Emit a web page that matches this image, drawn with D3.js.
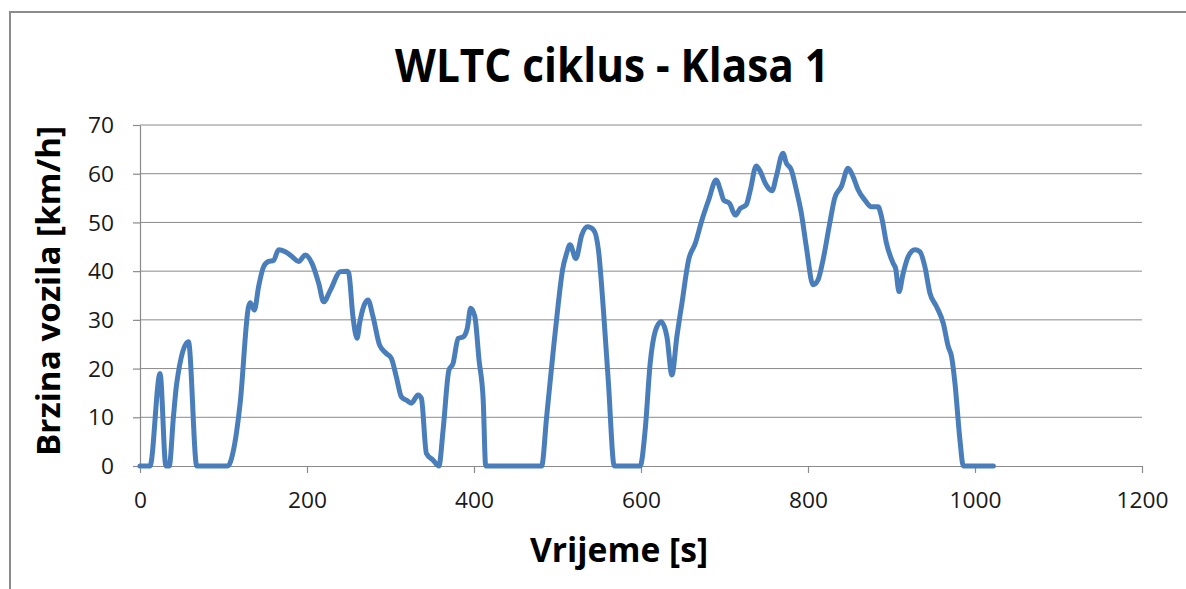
<!DOCTYPE html>
<html>
<head>
<meta charset="utf-8">
<script src="https://cdn.jsdelivr.net/npm/d3@7"></script>
<style>
  html, body { margin: 0; padding: 0; background: #fff; }
  svg { display: block; }
</style>
</head>
<body>
<svg id="chart" width="1186" height="589"></svg>
<script>
// WLTC Class 1 driving cycle: time [s] and vehicle speed [km/h]
const timeSec = [0,12,24,31,35,40,44,58,68,105,112,120,130,132,137,142,148,154,160,166,174,182,190,198,206,214,220,228,240,248,250,255,260,263,273,279,287,295,301,307,313,319,325,333,337,343,351,358,363,370,375,381,387,392,396,401,406,411,414,481,487,495,501,506,511,515,522,529,536,543,549,555,561,568,599,605,611,617,624,631,637,643,649,657,665,673,681,690,695,699,706,713,719,726,731,738,743,749,757,762,770,774,780,786,792,798,806,812,818,826,832,840,848,854,860,868,876,884,888,894,902,905,909,914,920,928,934,940,946,954,962,968,972,976,982,986,1022];
const speedKmh = [0,0,19,0,0,10,17,25.5,0,0,3.3,13,32.7,33.5,32,36.8,40.9,42,42.2,44.4,44,43,42,43.3,41.6,37.5,33.7,36.1,39.9,40,39.6,30.7,26.2,29.3,34.1,30.7,24.8,23.1,22.1,18.3,14.2,13.5,12.9,14.6,13.9,2.6,1.2,0,7.4,19.7,21.1,26.2,26.5,28.3,32.4,30.7,21.8,13.6,0,0,10.1,23.8,33.4,40.2,43.7,45.4,42.6,47.4,49.1,48.5,44.4,32,17,0,0,7.4,21.1,27.6,29.6,26.6,18.7,26.6,33.4,42.3,45.7,50.5,54.6,58.7,56.7,54.6,53.9,51.5,52.9,53.6,56.7,61.6,60.4,58,56.5,59.4,64.2,62.2,60.8,56.7,51.9,45,37.2,38.2,42.3,49.8,55,57.4,61.1,59.4,56.7,54.6,53.2,53.2,51.2,45.7,41.6,40.5,35.8,39.6,43,44.4,44,40.9,35.5,32.7,29.3,24.5,22.4,17,5.3,0,0];

const xTicks = [0,200,400,600,800,1000,1200];
const yTicks = [0,10,20,30,40,50,60,70];

const titleText = "WLTC ciklus - Klasa 1";
const xTitle = "Vrijeme [s]";
const yTitle = "Brzina vozila [km/h]";

const svg = d3.select("#chart");
const plot = { left: 140, right: 1142, top: 125, bottom: 466 };

const x = d3.scaleLinear().domain([0, 1200]).range([plot.left, plot.right]);
const y = d3.scaleLinear().domain([0, 70]).range([plot.bottom, plot.top]);

// outer chart frame
svg.append("rect")
  .attr("x", 10).attr("y", 12)
  .attr("width", 1200).attr("height", 620)
  .attr("fill", "#fff")
  .attr("stroke", "#8c8c8c")
  .attr("stroke-width", 2);

// horizontal gridlines
svg.append("g")
  .selectAll("line")
  .data(yTicks.filter(d => d > 0))
  .join("line")
  .attr("x1", plot.left).attr("x2", plot.right)
  .attr("y1", d => y(d)).attr("y2", d => y(d))
  .attr("stroke", "#8a8a8a")
  .attr("stroke-width", 1);

// axes
const fontTick = "'Open Sans', 'DejaVu Sans', sans-serif";
const fmt = d3.format("d");
const yAxis = svg.append("g")
  .attr("transform", `translate(${plot.left},0)`)
  .call(d3.axisLeft(y).tickValues(yTicks).tickFormat(fmt).tickSize(7).tickPadding(19).tickSizeOuter(0));
const xAxis = svg.append("g")
  .attr("transform", `translate(0,${plot.bottom})`)
  .call(d3.axisBottom(x).tickValues(xTicks).tickFormat(fmt).tickSize(7).tickPadding(19).tickSizeOuter(0));

[yAxis, xAxis].forEach(g => {
  g.attr("font-size", null).attr("font-family", null);
  g.select(".domain").attr("stroke", "#8a8a8a").attr("stroke-width", 1.2);
  g.selectAll(".tick line").attr("stroke", "#8a8a8a").attr("stroke-width", 1.2);
  g.selectAll(".tick text")
    .attr("fill", "#1a1a1a")
    .style("font-family", fontTick)
    .style("font-size", "22px")
    .attr("lengthAdjust", "spacingAndGlyphs")
    .attr("textLength", d => fmt(d).length * 13);
});
yAxis.selectAll(".tick text").attr("dy", "0.35em");

// speed trace
const line = d3.line()
  .x((d, i) => x(timeSec[i]))
  .y(d => y(d))
  .curve(d3.curveMonotoneX);

svg.append("path")
  .datum(speedKmh)
  .attr("d", line)
  .attr("fill", "none")
  .attr("stroke", "#4a7ebb")
  .attr("stroke-width", 5)
  .attr("stroke-linejoin", "round")
  .attr("stroke-linecap", "round");

// titles
const fontBold = "'Open Sans', 'DejaVu Sans', sans-serif";
svg.append("text")
  .attr("x", 612).attr("y", 82)
  .attr("text-anchor", "middle")
  .attr("textLength", 434).attr("lengthAdjust", "spacingAndGlyphs")
  .style("font-family", fontBold).style("font-weight", 700).style("font-size", "46px")
  .attr("fill", "#000")
  .text(titleText);

svg.append("text")
  .attr("x", 619).attr("y", 562)
  .attr("text-anchor", "middle")
  .attr("textLength", 178).attr("lengthAdjust", "spacingAndGlyphs")
  .style("font-family", fontBold).style("font-weight", 700).style("font-size", "34px")
  .attr("fill", "#000")
  .text(xTitle);

svg.append("text")
  .attr("transform", "translate(60,291) rotate(-90)")
  .attr("text-anchor", "middle")
  .attr("textLength", 330).attr("lengthAdjust", "spacingAndGlyphs")
  .style("font-family", fontBold).style("font-weight", 700).style("font-size", "32px")
  .attr("fill", "#000")
  .text(yTitle);
</script>
</body>
</html>
